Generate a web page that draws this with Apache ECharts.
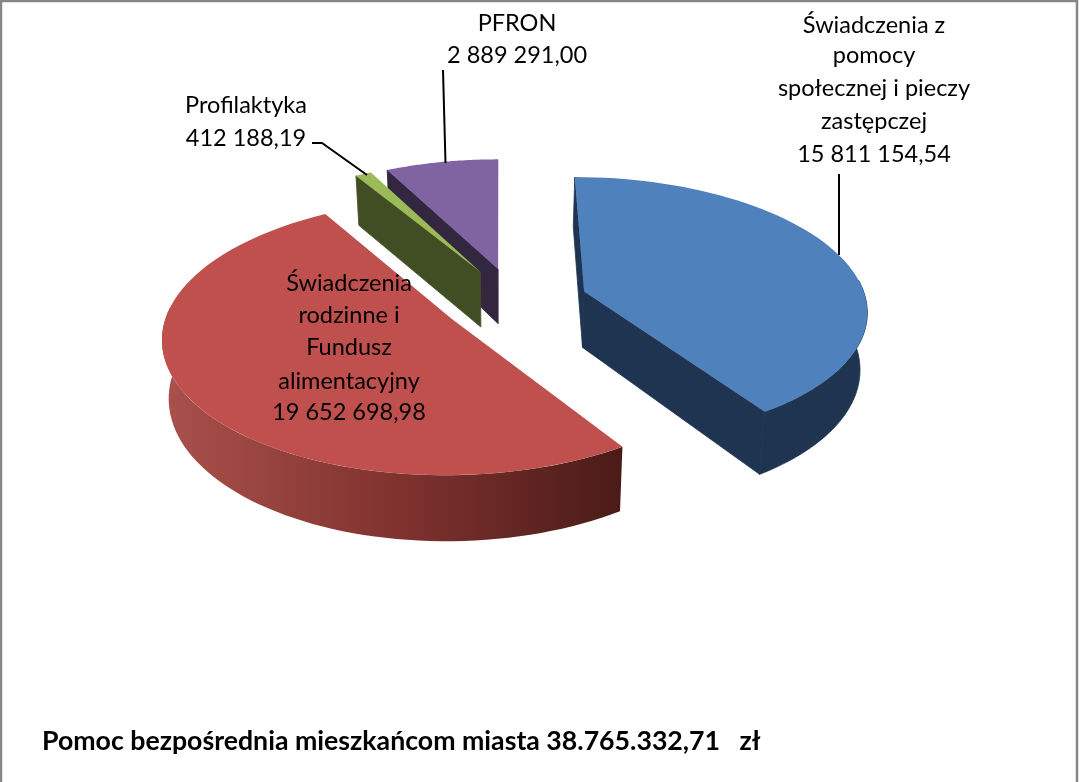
<!DOCTYPE html>
<html>
<head>
<meta charset="utf-8">
<style>html,body{margin:0;padding:0;background:#fff}#c{width:1079px;height:782px}</style>
<script src="https://cdn.jsdelivr.net/npm/echarts@6/dist/echarts.min.js"></script>
</head>
<body>
<div id="c"></div>
<script>
// Data
const categories = ['Świadczenia z pomocy społecznej i pieczy zastępczej', 'Świadczenia rodzinne i Fundusz alimentacyjny', 'Profilaktyka', 'PFRON'];
const values = [15811154.54, 19652698.98, 412188.19, 2889291.00];
const valueLabels = ['15 811 154,54', '19 652 698,98', '412 188,19', '2 889 291,00'];
const titleText = 'Pomoc bezpośrednia mieszkańcom miasta 38.765.332,71   zł';

// Appearance
const topColors = ['#4f81bd', '#c0504d', '#9bbb59', '#8064a2'];
const wallColors = ['#1f3450', null, '#414e23', '#33263f'];
const paintRank = [2, 3, 1, 0];
const FONT = 'Lato, "Open Sans", sans-serif';

// Perspective pie geometry
const geo = {xv: 500, xc: 15, y0: 301, c: 0.465, k: 0.00045, R: 282, E: 73, H: 56.5, bottomScale: 0.98};
const total = values.reduce((a, b) => a + b, 0);
const starts = [];
values.reduce((acc, v, i) => { starts[i] = acc; return acc + v; }, 0);
function project(a, mid, r, bottom) {
  const U = geo.xc + geo.E * Math.sin(mid) + r * Math.sin(a);
  const V = -geo.E * Math.cos(mid) - r * Math.cos(a);
  const s = 1 / (1 - geo.k * V);
  const fx = bottom ? geo.bottomScale : 1;
  return [geo.xv + U * s * fx, geo.y0 + geo.c * V * s + (bottom ? geo.H * s : 0)];
}
function arcPoints(a0, a1, mid, bottom) {
  const steps = 64, pts = [];
  for (let j = 0; j <= steps; j++) pts.push(project(a0 + (a1 - a0) * j / steps, mid, geo.R, bottom));
  return pts;
}
function renderSlice(params, api) {
  const i = params.dataIndex;
  const a0 = starts[i] / total * 2 * Math.PI;
  const a1 = a0 + api.value(0) / total * 2 * Math.PI;
  const mid = (a0 + a1) / 2;
  const cT = project(0, mid, 0, false), cB = project(0, mid, 0, true);
  const wall = wallColors[i] || '#5a2320';
  const base = paintRank[i] * 10;
  const poly = (points, fill, z, seam) => ({type: 'polygon', z2: base + z, silent: true,
    shape: {points}, style: seam ? {fill, stroke: fill, lineWidth: 0.8} : {fill, stroke: null}});
  const arcFill = wallColors[i] ? wallColors[i] : new echarts.graphic.LinearGradient(0, 0, 1, 0, [
    {offset: 0, color: '#aa514c'}, {offset: 0.5, color: '#81332f'}, {offset: 1, color: '#4a1b18'}]);
  const children = [];
  // radial cut faces that look towards the viewer
  if (Math.sin(a0) <= 1e-9) {
    children.push(poly([cT, project(a0, mid, geo.R, false), project(a0, mid, geo.R, true), cB], wall, 1, true));
  }
  if (Math.sin(a1) > 1e-9) {
    children.push(poly([cT, project(a1, mid, geo.R, false), project(a1, mid, geo.R, true), cB], wall, 1, true));
  }
  // the part of the outer wall on the near side of the pie
  const w0 = Math.max(a0, 85 * Math.PI / 180), w1 = Math.min(a1, 275 * Math.PI / 180);
  if (w1 > w0) {
    children.push(poly(arcPoints(w0, w1, mid, false).concat(arcPoints(w0, w1, mid, true).reverse()), arcFill, 2, !!wallColors[i]));
  }
  children.push(poly([cT].concat(arcPoints(a0, a1, mid, false)), topColors[i], 3, false));
  return {type: 'group', children};
}
const textLines = (lines, x, ys) => lines.map((t, n) => ({
  type: 'text', z: 20, x, y: ys[n],
  style: {text: t, fill: '#000', font: '23.5px ' + FONT, textAlign: 'center', textVerticalAlign: 'middle'}
}));
const leader = pts => ({type: 'polyline', z: 10, shape: {points: pts}, style: {stroke: '#000', lineWidth: 2, fill: null}});

const chart = echarts.init(document.getElementById('c'), null, {renderer: 'canvas'});
chart.setOption({
  animation: false,
  backgroundColor: '#fff',
  title: {text: titleText, left: 42, top: 728, padding: 0,
    textStyle: {fontFamily: FONT, fontWeight: 'bold', fontSize: 26.7, color: '#000'}},
  series: [{type: 'custom', coordinateSystem: 'none', silent: true,
    data: values.map(v => [v]), renderItem: renderSlice, z: 5}],
  graphic: [
    {type: 'rect', z: 1, shape: {x: 1, y: 1, width: 1076, height: 800}, style: {fill: 'none', stroke: '#868686', lineWidth: 2.5}},
    leader([[839, 174], [839, 255]]),
    leader([[443, 70], [445.5, 163]]),
    leader([[312, 143], [322, 143], [367, 175]])
  ].concat(
    textLines(['Świadczenia z', 'pomocy', 'społecznej i pieczy', 'zastępczej', valueLabels[0]], 874, [25, 55, 88, 121, 154]),
    textLines(['Świadczenia', 'rodzinne i', 'Fundusz', 'alimentacyjny', valueLabels[1]], 349, [283, 315, 347, 381, 412]),
    textLines([categories[2], valueLabels[2]], 246, [105, 138]),
    textLines([categories[3], valueLabels[3]], 517, [23, 55])
  )
});
</script>
</body>
</html>
